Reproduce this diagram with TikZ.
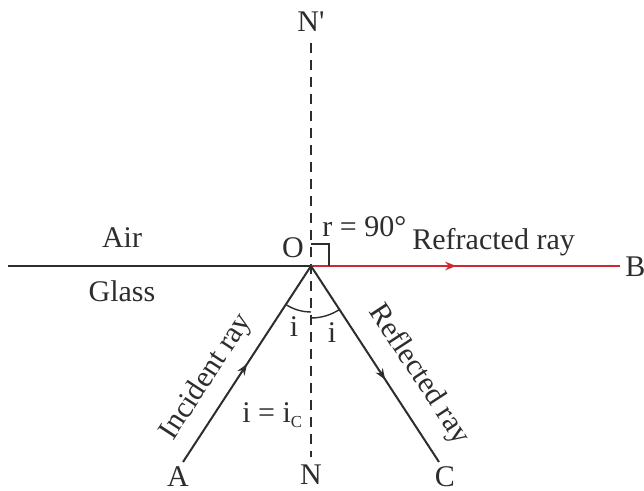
\documentclass[tikz,border=0pt]{standalone}
\usepackage{fontspec}
\setmainfont{Liberation Serif}
\usetikzlibrary{arrows.meta,positioning,decorations.markings}
\definecolor{inkgray}{RGB}{45,45,45}
\definecolor{raycolor}{RGB}{208,40,50}
\tikzset{
  ray/.style={draw=inkgray, line width=1pt},
  refr/.style={draw=raycolor, line width=1pt},
  normal/.style={draw=inkgray, line width=0.8pt, dash pattern=on 5pt off 3.5pt},
  anglearc/.style={draw=inkgray, line width=0.7pt},
  lbl/.style={text=inkgray, inner sep=0pt, font=\fontsize{15}{18}\selectfont},
  arrowat/.style={
    postaction={decorate},
    decoration={markings,
      mark=at position #1 with {\arrow{Stealth[length=5.5pt,width=4.2pt]}}
    }
  }
}

\begin{document}
\begin{tikzpicture}[x=0.5pt, y=0.5pt]
  \useasboundingbox (0,0) rectangle (644,491);
  % points of the figure
  \coordinate (O) at (311,225);
  \coordinate (W) at (8,225);
  \coordinate (E) at (620,225);
  \coordinate (A) at (183,29);
  \coordinate (C) at (439,29);
  \coordinate (Nt) at (311,448);
  \coordinate (Nb) at (311,34);

  \draw[normal] (Nt) -- (Nb);
  \draw[ray] (W) -- (O);
  \draw[refr, arrowat=0.47] (O) -- (E);
  \draw[ray, arrowat=0.5] (A) -- node[lbl, sloped, pos=0.36, above=6pt] (lblInc) {Incident ray} (O);
  \draw[ray, arrowat=0.58] (O) -- node[lbl, sloped, pos=0.64, above=8pt] (lblRefl) {Reflected ray} (C);

  % angles
  \draw[anglearc] (O) ++(236.85:46) arc[start angle=236.85, end angle=270, radius=46];
  \draw[anglearc] (O) ++(270:52) arc[start angle=270, end angle=303.15, radius=52];
  \draw[anglearc] (O) ++(0,22) -| ++(18,-22);

  % labels
  \node[lbl, above=5.5pt of Nt] (lblNp) {N\textquotesingle};
  \node[lbl, below=3.5pt of Nb] (lblN) {N};
  \node[lbl, below=2pt of A, xshift=-2.5pt] (lblA) {A};
  \node[lbl, below=2pt of C, xshift=3pt] (lblC) {C};
  \node[lbl, right=2.5pt of E, yshift=-0.5pt] (lblB) {B};
  \node[lbl, anchor=base] (lblO) at (293,233) {O};
  \node[lbl, anchor=base west] (lblr) at (322,254) {r = 90°};
  \node[lbl, anchor=base west] (lblRefr) at (412,241) {Refracted ray};
  \node[lbl, anchor=base] (lblAir) at (122,243) {Air};
  \node[lbl, anchor=base] (lblGlass) at (122,189) {Glass};
  \node[lbl, anchor=base] (lbliL) at (294,154) {i};
  \node[lbl, anchor=base] (lbliR) at (332,148) {i};
  \node[lbl, anchor=base west] (lblic) at (242,68) {i = i\textsubscript{\scalebox{0.8}{C}}};
\end{tikzpicture}
\end{document}
